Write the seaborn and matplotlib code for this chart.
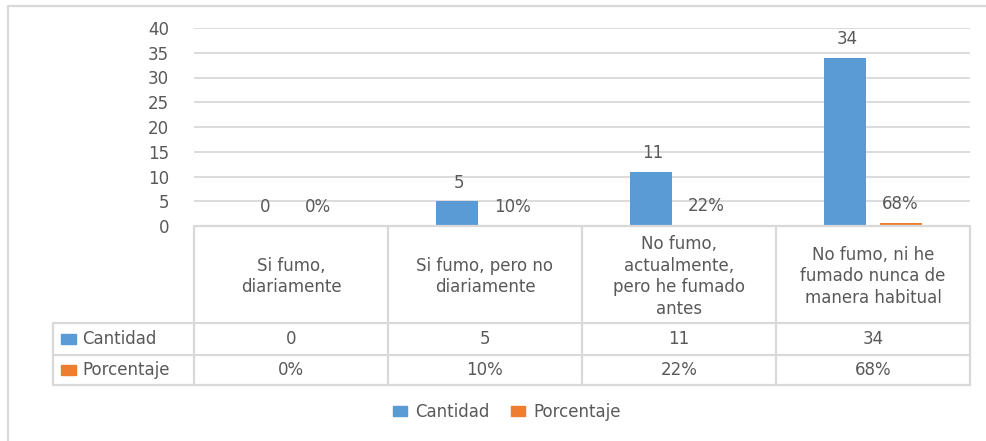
import matplotlib
matplotlib.use("Agg")
import matplotlib.pyplot as plt
import matplotlib.transforms as mtransforms
from matplotlib.lines import Line2D
from matplotlib.patches import Patch, Rectangle
import seaborn as sns
import pandas as pd

categories = [
    "Si fumo,\ndiariamente",
    "Si fumo, pero no\ndiariamente",
    "No fumo,\nactualmente,\npero he fumado\nantes",
    "No fumo, ni he\nfumado nunca de\nmanera habitual",
]
cantidad = [0, 5, 11, 34]
porcentaje = [0.00, 0.10, 0.22, 0.68]
series_names = ["Cantidad", "Porcentaje"]
y_ticks = [0, 5, 10, 15, 20, 25, 30, 35, 40]

BLUE = "#5B9BD5"
ORANGE = "#ED7D31"
GRID = "#D9D9D9"
TEXT = "#595959"
FS = 12

sns.set_style("white")
plt.rcParams["font.family"] = ["DejaVu Sans"]

df = pd.DataFrame({
    "cat": categories * 2,
    "serie": [series_names[0]] * 4 + [series_names[1]] * 4,
    "valor": cantidad + porcentaje,
})

W, H = 986, 441
fig = plt.figure(figsize=(W / 100, H / 100), dpi=100)
ax = fig.add_axes([194 / W, 1 - 226 / H, 776 / W, 198 / H])

sns.barplot(
    data=df, x="cat", y="valor", hue="serie",
    palette=[BLUE, ORANGE], width=0.58, gap=0.25,
    ax=ax, legend=False, saturation=1, linewidth=0,
)

ax.set_xlim(-0.5, 3.5)
ax.set_ylim(0, 40)
ax.set_yticks(y_ticks)
ax.yaxis.grid(True, color=GRID, linewidth=1.3)
ax.set_axisbelow(True)
for s in ax.spines.values():
    s.set_visible(False)
ax.tick_params(axis="y", length=0, labelsize=FS, labelcolor=TEXT, pad=18)
ax.set_xticks([])
ax.set_xlabel("")
ax.set_ylabel("")

# data labels
for i, v in enumerate(cantidad):
    ax.annotate(str(v), (i - 0.135, v), xytext=(0, 7), textcoords="offset points",
                ha="center", va="bottom", fontsize=FS, color=TEXT)
for i, v in enumerate(porcentaje):
    ax.annotate(f"{v:.0%}", (i + 0.14, v), xytext=(0, 7), textcoords="offset points",
                ha="center", va="bottom", fontsize=FS, color=TEXT)

# data table under the plot
tr = mtransforms.blended_transform_factory(ax.transData, ax.transAxes)
left = -0.5 - 141 / 194
y_top, y_head, y_row1, y_row2 = 0.0, -97 / 198, -129 / 198, -159 / 198
lk = dict(color=GRID, linewidth=1.6, transform=tr, clip_on=False)
ax.add_line(Line2D([-0.5, 3.5], [y_top, y_top], **lk))
for y in (y_head, y_row1, y_row2):
    ax.add_line(Line2D([left, 3.5], [y, y], **lk))
for x in [-0.5, 0.5, 1.5, 2.5, 3.5]:
    ax.add_line(Line2D([x, x], [y_top, y_row2], **lk))
ax.add_line(Line2D([left, left], [y_head, y_row2], **lk))

for i, c in enumerate(categories):
    ax.text(i, y_head / 2 - 0.01, c, transform=tr, ha="center", va="center",
            fontsize=FS, color=TEXT, linespacing=1.25)
    ax.text(i, (y_head + y_row1) / 2, str(cantidad[i]), transform=tr,
            ha="center", va="center", fontsize=FS, color=TEXT)
    ax.text(i, (y_row1 + y_row2) / 2, f"{porcentaje[i]:.0%}", transform=tr,
            ha="center", va="center", fontsize=FS, color=TEXT)

for name, col, ya, yb in [(series_names[0], BLUE, y_head, y_row1),
                          (series_names[1], ORANGE, y_row1, y_row2)]:
    ym = (ya + yb) / 2
    ax.add_patch(Rectangle((left + 8 / 194, ym - 5 / 198), 15 / 194, 10 / 198,
                           transform=tr, color=col, clip_on=False))
    ax.text(left + 29 / 194, ym, name, transform=tr, ha="left", va="center",
            fontsize=FS, color=TEXT)

# legend
handles = [Patch(color=BLUE), Patch(color=ORANGE)]
fig.legend(handles, series_names, loc="center", bbox_to_anchor=(507 / W, 1 - 412 / H),
           ncol=2, frameon=False, fontsize=FS, labelcolor=TEXT,
           handlelength=0.85, handleheight=0.6, columnspacing=1.3, handletextpad=0.5)

# chart area border
fig.add_artist(Line2D([8 / W, 1], [1 - 6 / H, 1 - 6 / H], color=GRID, linewidth=1.6,
                      transform=fig.transFigure))
fig.add_artist(Line2D([8 / W, 8 / W], [0, 1 - 6 / H], color=GRID, linewidth=1.6,
                      transform=fig.transFigure))

fig.savefig("out.png", dpi=100, facecolor="white")
